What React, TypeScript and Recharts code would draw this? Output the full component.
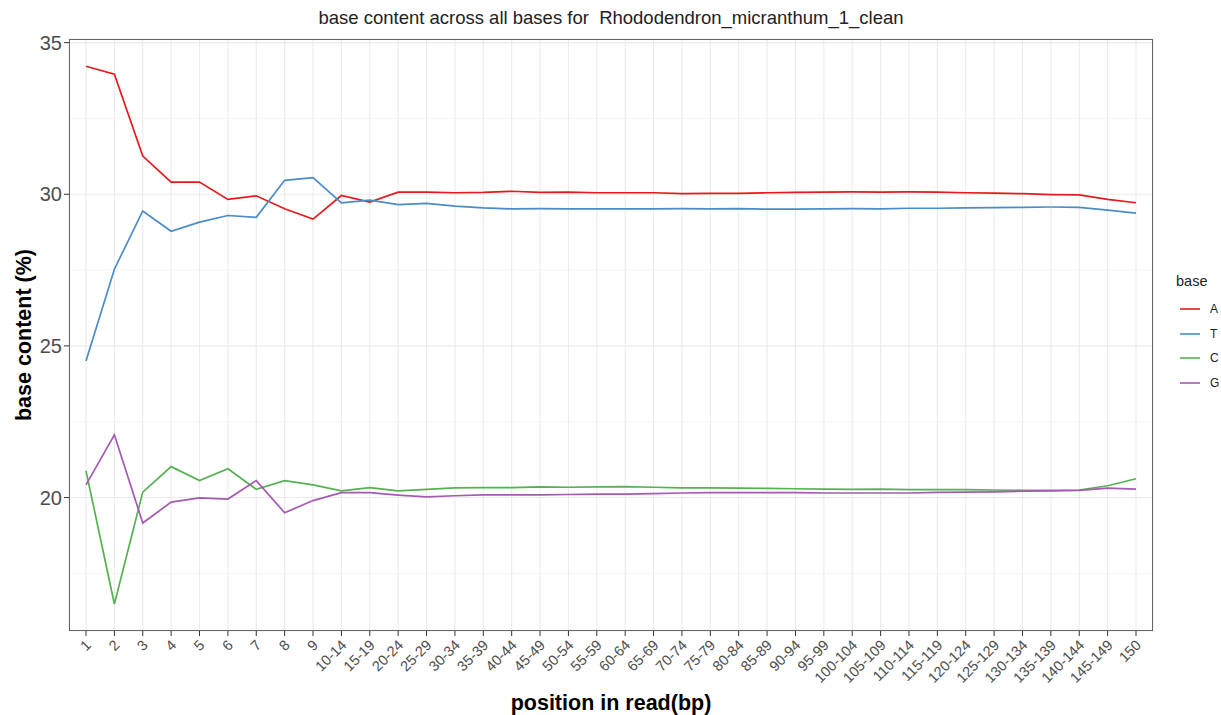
import React from 'react';
import { LineChart, Line, XAxis, YAxis, CartesianGrid, ReferenceLine } from 'recharts';

const positions = [
  '1', '2', '3', '4', '5', '6', '7', '8', '9',
  '10-14', '15-19', '20-24', '25-29', '30-34', '35-39', '40-44', '45-49',
  '50-54', '55-59', '60-64', '65-69', '70-74', '75-79', '80-84', '85-89',
  '90-94', '95-99', '100-104', '105-109', '110-114', '115-119', '120-124',
  '125-129', '130-134', '135-139', '140-144', '145-149', '150',
];

const baseA = [
  34.22, 33.96, 31.26, 30.4, 30.4, 29.83, 29.95, 29.52, 29.18, 29.96, 29.74,
  30.07, 30.07, 30.05, 30.06, 30.1, 30.06, 30.07, 30.05, 30.05, 30.05, 30.02,
  30.03, 30.03, 30.05, 30.06, 30.07, 30.08, 30.07, 30.08, 30.07, 30.05, 30.04,
  30.02, 29.99, 29.98, 29.83, 29.72,
];
const baseT = [
  24.5, 27.53, 29.45, 28.78, 29.08, 29.3, 29.24, 30.46, 30.55, 29.72, 29.81,
  29.66, 29.7, 29.61, 29.55, 29.52, 29.53, 29.52, 29.52, 29.52, 29.52, 29.53,
  29.52, 29.53, 29.51, 29.51, 29.52, 29.53, 29.52, 29.54, 29.54, 29.55, 29.56,
  29.57, 29.58, 29.57, 29.48, 29.38,
];
const baseC = [
  20.88, 16.49, 20.18, 21.02, 20.56, 20.95, 20.27, 20.56, 20.42, 20.22, 20.33,
  20.22, 20.27, 20.32, 20.33, 20.33, 20.35, 20.34, 20.35, 20.36, 20.34, 20.32,
  20.32, 20.31, 20.3, 20.29, 20.28, 20.27, 20.28, 20.26, 20.26, 20.26, 20.25,
  20.24, 20.24, 20.25, 20.39, 20.62,
];
const baseG = [
  20.42, 22.07, 19.16, 19.85, 19.99, 19.95, 20.56, 19.5, 19.9, 20.16, 20.16,
  20.08, 20.02, 20.06, 20.09, 20.09, 20.09, 20.1, 20.11, 20.11, 20.13, 20.15,
  20.16, 20.16, 20.16, 20.16, 20.15, 20.15, 20.15, 20.15, 20.17, 20.18, 20.19,
  20.21, 20.22, 20.24, 20.31, 20.28,
];

const yTicks = [20, 25, 30, 35];
const yMinor = [17.5, 22.5, 27.5, 32.5];

const series = [
  { key: 'A', color: '#E41A1C' },
  { key: 'T', color: '#4A8CC8' },
  { key: 'C', color: '#55B152' },
  { key: 'G', color: '#A55AB2' },
];

const data = positions.map((pos, i) => ({
  pos,
  A: baseA[i],
  T: baseT[i],
  C: baseC[i],
  G: baseG[i],
}));

const font = '"Liberation Sans", Arial, sans-serif';

// plot panel box (ggplot-like border drawn over the chart)
const panel = { left: 69, top: 39, width: 1084, height: 592 };

function XTick({ x, y, payload }: any) {
  const px = x + 6;
  const py = y + 8;
  return (
    <text
      x={px}
      y={py}
      transform={`rotate(-45 ${px} ${py})`}
      textAnchor="end"
      fontSize={14.5}
      fill="#4d4d4d"
      fontFamily={font}
    >
      {payload.value}
    </text>
  );
}

function BaseLegend() {
  return (
    <div style={{ position: 'absolute', left: 1176, top: 273, fontFamily: font, color: '#222' }}>
      <div style={{ fontSize: 14.5, height: 24 }}>base</div>
      {series.map((s) => (
        <div key={s.key} style={{ display: 'flex', alignItems: 'center', height: 24.5 }}>
          <svg width={26} height={10}>
            <line x1={4} y1={5} x2={24} y2={5} stroke={s.color} strokeWidth={1.6} />
          </svg>
          <span style={{ fontSize: 12, marginLeft: 8 }}>{s.key}</span>
        </div>
      ))}
    </div>
  );
}

export default function App() {
  return (
    <div style={{ position: 'absolute', left: 0, top: 0, width: 1221, height: 715, background: '#fff' }}>
      <div
        style={{
          position: 'absolute',
          left: panel.left,
          width: panel.width,
          top: 7,
          textAlign: 'center',
          fontFamily: font,
          fontSize: 18.5,
          color: '#222',
          whiteSpace: 'pre',
        }}
      >
        {'base content across all bases for  Rhododendron_micranthum_1_clean'}
      </div>
      <div
        style={{
          position: 'absolute',
          left: 24,
          top: 335,
          transform: 'translate(-50%, -50%) rotate(-90deg)',
          whiteSpace: 'nowrap',
          fontFamily: font,
          fontWeight: 'bold',
          fontSize: 21.5,
          color: '#000',
        }}
      >
        base content (%)
      </div>
      <div
        style={{
          position: 'absolute',
          left: panel.left,
          width: panel.width,
          top: 691,
          textAlign: 'center',
          fontFamily: font,
          fontWeight: 'bold',
          fontSize: 21.5,
          color: '#000',
        }}
      >
        position in read(bp)
      </div>
      <LineChart width={1221} height={715} data={data} margin={{ top: 39, right: 68, bottom: 0, left: 0 }}>
        <CartesianGrid stroke="#ebebeb" strokeWidth={1.1} />
        {yMinor.map((v) => (
          <ReferenceLine key={v} y={v} stroke="#f3f3f3" strokeWidth={0.8} />
        ))}
        <XAxis
          dataKey="pos"
          interval={0}
          height={84}
          padding={{ left: 17, right: 17 }}
          tick={<XTick />}
          tickLine={{ stroke: '#333' }}
          tickSize={5}
          axisLine={false}
        />
        <YAxis
          type="number"
          domain={[15.6, 35.12]}
          ticks={yTicks}
          width={69}
          tick={{ fontSize: 20, fill: '#4d4d4d', fontFamily: font }}
          tickLine={{ stroke: '#333' }}
          tickSize={5}
          tickMargin={2}
          axisLine={false}
          allowDataOverflow
        />
        {series.map((s) => (
          <Line
            key={s.key}
            dataKey={s.key}
            name={s.key}
            stroke={s.color}
            strokeWidth={1.7}
            dot={false}
            activeDot={false}
            isAnimationActive={false}
          />
        ))}
      </LineChart>
      <div
        style={{
          position: 'absolute',
          left: panel.left,
          top: panel.top,
          width: panel.width,
          height: panel.height,
          boxSizing: 'border-box',
          border: '1.5px solid #666',
          pointerEvents: 'none',
        }}
      />
      <BaseLegend />
    </div>
  );
}
